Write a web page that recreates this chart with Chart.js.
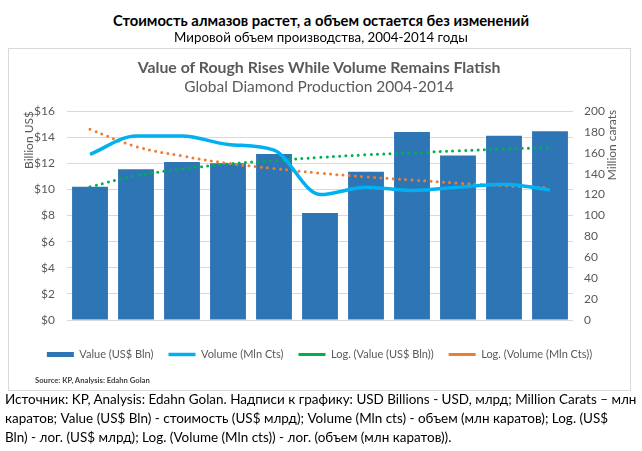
<!DOCTYPE html>
<html>
<head>
<meta charset="utf-8">
<script src="https://cdn.jsdelivr.net/npm/chart.js@4.4.0/dist/chart.umd.min.js"></script>
<style>
body { margin: 0; width: 642px; height: 451px; background: #fff; position: relative; overflow: hidden;
       font-family: Lato, "Noto Sans", sans-serif; }
.t { position: absolute; white-space: nowrap; line-height: 1; }
#box { position: absolute; left: 8px; top: 48px; width: 623px; height: 343px; border: 1px solid #d9d9d9; box-sizing: border-box; }
#wrap { position: absolute; left: 8px; top: 48px; width: 623px; height: 343px; }
</style>
</head>
<body>
<div id="box"></div>
<div id="wrap"><canvas id="chart" width="623" height="343"></canvas></div>

<div class="t" data-cx="321" data-cy="20" data-w="416" style="font-weight:bold;font-size:15px;color:#000">Стоимость алмазов растет, а объем остается без изменений</div>
<div class="t" data-cx="321" data-cy="38" data-w="294" style="font-size:14px;color:#000">Мировой объем производства, 2004-2014 годы</div>
<div class="t" data-cx="319" data-cy="67" data-w="363" style="font-weight:bold;font-size:17px;color:#595959">Value of Rough Rises While Volume Remains Flatish</div>
<div class="t" data-cx="319" data-cy="87" data-w="270" style="font-size:16px;color:#595959">Global Diamond Production 2004-2014</div>
<div class="t" data-x="35" data-cy="381" data-w="115" style="font-weight:bold;font-size:10px;color:#404040">Source: KP, Analysis: Edahn Golan</div>

<div class="t para" id="p1" data-x="5" data-cy="400" data-w="632" style="font-size:14px;color:#000">Источник: KP, Analysis: Edahn Golan. Надписи к графику: USD Billions - USD, млрд; Million Carats – млн</div>
<div class="t para" data-x="5" data-cy="419" style="font-size:14px;color:#000">каратов; Value (US$ Bln) - стоимость (US$ млрд); Volume (Mln cts) - объем (млн каратов); Log. (US$</div>
<div class="t para" data-x="5" data-cy="438" style="font-size:14px;color:#000">Bln) - лог. (US$ млрд); Log. (Volume (Mln cts)) - лог. (объем (млн каратов)).</div>

<script>
// values
const years = ['2004', '2005', '2006', '2007', '2008', '2009', '2010', '2011', '2012', '2013', '2014'];
const valueBln = [10.2, 11.55, 12.1, 12.0, 12.7, 8.2, 11.35, 14.4, 12.6, 14.1, 14.45];
const volumeMct = [158.5, 176, 176, 168, 162.5, 120, 127, 124, 127, 130, 124.5];
const trendValue = [10.2, 11.05, 11.55, 11.95, 12.2, 12.45, 12.65, 12.8, 12.95, 13.1, 13.2];
const trendVolume = [182.5, 166, 157, 150, 145, 140.5, 137, 134, 131, 128.5, 126.5];
const leftRange = [0, 16, 2];
const rightRange = [0, 200, 20];

const grey = '#595959';
const tickFont = { family: 'Lato', size: 12 };

/**
 * Scale html texts to the width they have in the picture and place them
 */
function placeTexts() {
    let paraSize = null;
    document.querySelectorAll('.t').forEach(function (el) {
        if (el.dataset.w) {
            let size = parseFloat(getComputedStyle(el).fontSize);
            let w = el.getBoundingClientRect().width;
            el.style.fontSize = (size * el.dataset.w / w) + 'px';
            if (el.id == 'p1')
                paraSize = el.style.fontSize;
        }
        else if (el.classList.contains('para') && paraSize) {
            el.style.fontSize = paraSize;
        }
        let r = el.getBoundingClientRect();
        if (el.dataset.cx)
            el.style.left = (el.dataset.cx - r.width / 2) + 'px';
        else
            el.style.left = el.dataset.x + 'px';
        el.style.top = (el.dataset.cy - r.height / 2) + 'px';
    });
}
placeTexts();

// rotated axis titles, placed like excel does (near the top)
const axisTitles = {
    id: 'axisTitles',
    afterDraw(chart) {
        let ctx = chart.ctx;
        ctx.save();
        ctx.fillStyle = grey;
        ctx.font = '12px Lato';
        ctx.textAlign = 'center';
        ctx.textBaseline = 'middle';
        ctx.translate(21, chart.chartArea.top + 29);
        ctx.rotate(-Math.PI / 2);
        ctx.fillText('Billion US$', 0, 0);
        ctx.restore();

        ctx.save();
        ctx.fillStyle = grey;
        ctx.font = '12px Lato';
        ctx.textAlign = 'center';
        ctx.textBaseline = 'middle';
        ctx.translate(chart.width - 19, chart.chartArea.top + 34);
        ctx.rotate(-Math.PI / 2);
        ctx.fillText('Million carats', 0, 0);
        ctx.restore();
    }
};

const dots = { borderWidth: 3, borderDash: [0, 6.3], borderCapStyle: 'round', pointRadius: 0, tension: 0.4, pointStyle: 'line' };

new Chart(document.getElementById('chart'), {
    type: 'bar',
    data: {
        labels: years,
        datasets: [{
            type: 'bar',
            label: 'Value (US$ Bln)',
            data: valueBln,
            yAxisID: 'y',
            backgroundColor: '#2e75b6',
            barPercentage: 0.78,
            categoryPercentage: 1,
            pointStyle: 'rect',
            order: 1
        }, {
            type: 'line',
            label: 'Volume (Mln Cts)',
            data: volumeMct,
            yAxisID: 'y1',
            borderColor: '#00b0f0',
            borderWidth: 3.5,
            pointRadius: 0,
            cubicInterpolationMode: 'monotone',
            pointStyle: 'line',
            order: 0
        }, Object.assign({
            type: 'line',
            label: 'Log. (Value (US$ Bln))',
            data: trendValue,
            yAxisID: 'y',
            borderColor: '#00b050',
            order: 0
        }, dots), Object.assign({
            type: 'line',
            label: 'Log. (Volume (Mln Cts))',
            data: trendVolume,
            yAxisID: 'y1',
            borderColor: '#ed7d31',
            order: 0
        }, dots)]
    },
    options: {
        responsive: false,
        animation: false,
        layout: { padding: { top: 63, bottom: 21, left: 0, right: 0 } },
        plugins: {
            title: { display: false },
            tooltip: { enabled: false },
            legend: {
                position: 'bottom',
                labels: {
                    usePointStyle: true,
                    pointStyleWidth: 27,
                    boxHeight: 5,
                    padding: 15,
                    color: grey,
                    font: { family: 'Lato', size: 11 },
                    sort: (a, b) => a.datasetIndex - b.datasetIndex
                }
            }
        },
        scales: {
            x: {
                grid: { display: false },
                border: { display: false },
                ticks: { color: grey, font: tickFont, padding: 10 },
                afterFit: (s) => { s.height = 14; }
            },
            y: {
                position: 'left',
                min: leftRange[0], max: leftRange[1],
                grid: { color: '#d9d9d9', drawTicks: false },
                border: { display: false },
                ticks: { stepSize: leftRange[2], color: grey, font: tickFont, padding: 12, callback: (v) => '$' + v },
                afterFit: (s) => { s.width = 59; }
            },
            y1: {
                position: 'right',
                min: rightRange[0], max: rightRange[1],
                grid: { display: false, drawTicks: false },
                border: { display: false },
                ticks: { stepSize: rightRange[2], color: grey, font: tickFont, padding: 11 },
                afterFit: (s) => { s.width = 58; }
            }
        }
    },
    plugins: [axisTitles]
});
</script>
</body>
</html>
